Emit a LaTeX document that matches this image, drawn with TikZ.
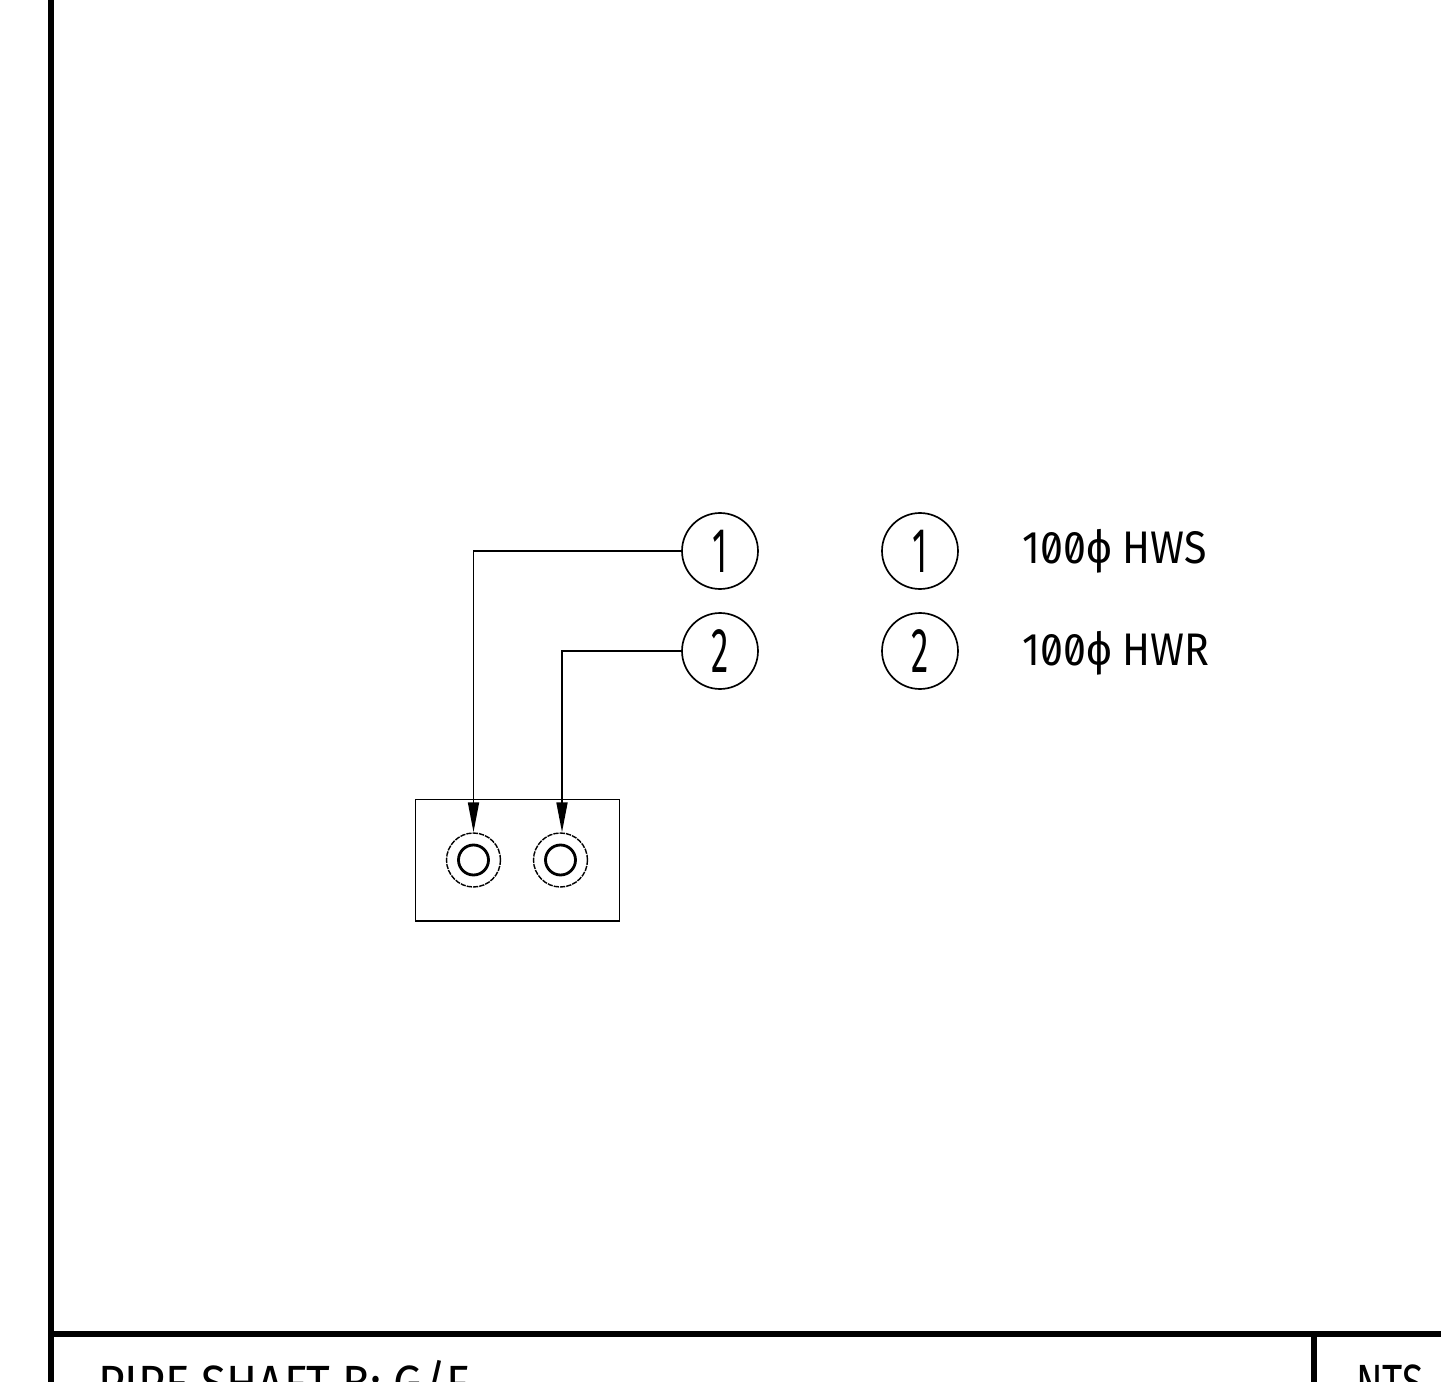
\documentclass[tikz,border=0pt]{standalone}
\usepackage{fontspec}
\usepackage{xcolor}
\usepackage{tikz}
\usetikzlibrary{arrows.meta,positioning,calc}
\newfontfamily\cadfont[RawFeature=+zero]{Fira Sans}

\begin{document}
\begin{tikzpicture}[
			x = 0.02cm,
			y = -0.02cm,
			>={Triangle[length=0.6cm,width=0.22cm]},
			bubble/.style = {circle,draw,line width=0.95pt,minimum size=1.52cm,inner sep=0},
			bubbletext/.style = {font=\cadfont\fontsize{36}{36}\selectfont,xscale=0.55},
			legend/.style = {anchor=west,inner sep=0,font=\cadfont\fontsize{26}{26}\selectfont,xscale=0.9},
			title/.style = {anchor=north west,inner sep=0,font=\cadfont\fontsize{29}{29}\selectfont,xscale=0.9},
			frame/.style = {line width=2.9pt},
			pipe/.style = {circle,draw,line width=1.6pt,minimum size=0.6cm,inner sep=0},
			sleeve/.style = {circle,draw,dashed,dash pattern=on 3pt off 0.6pt,line width=0.8pt,minimum size=1.08cm,inner sep=0},
			plate/.style = {draw,line width=0.65pt,minimum width=4.08cm,minimum height=2.43cm,inner sep=0},
			lead/.style = {->,line width=1pt}]

			\useasboundingbox (0,0) rectangle (1441,1382);
			\clip (0,0) rectangle (1441,1382);

			\draw[frame] (51,-5) -- (51,1390);
			\draw[frame] (51,1334) -- (1450,1334);
			\draw[frame] (1314,1334) -- (1314,1390);

			\node[title] (titletext) at (98,1360) {PIPE SHAFT B: G/F};
			\node[title,xscale=0.85] (scaletext) at (1356,1364) {NTS};

			\node[plate] (box) at (517.3,860.3) {};
			\node[pipe] (pipea) at (473.5,860) {};
			\node[sleeve] (sleevea) at (473.5,860) {};
			\node[pipe] (pipeb) at (560.5,860) {};
			\node[sleeve] (sleeveb) at (560.5,860) {};

			\node[bubble] (leada) at (720,551) {};
			\node[bubbletext] at (leada) {1};
			\node[bubble] (leadb) at (720,651) {};
			\node[bubbletext] at (leadb) {2};
			\node[bubble] (keya) at (920,551) {};
			\node[bubbletext] at (keya) {1};
			\node[bubble] (keyb) at (920,651) {};
			\node[bubbletext] at (keyb) {2};

			\node[legend] (hws) at (1022,551) {100ϕ HWS};
			\node[legend] (hwr) at (1022,653) {100ϕ HWR};

			\draw[lead] (leada.west) -| (sleevea.north);
			\draw[lead] (leadb.west) -| ([xshift=0.03cm]sleeveb.north);

		\end{tikzpicture}
\end{document}
